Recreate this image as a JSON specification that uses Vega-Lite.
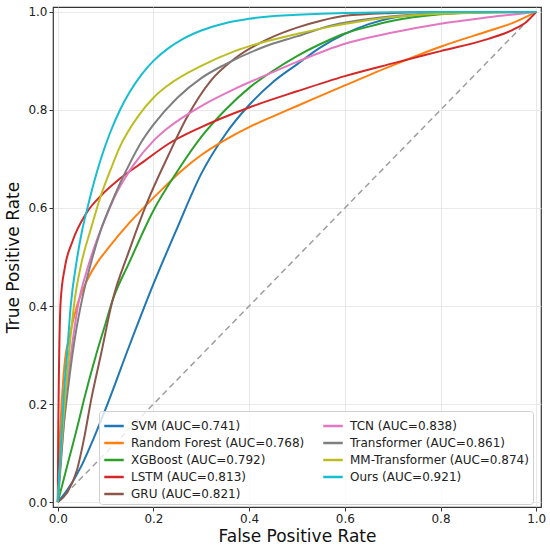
{
  "$schema": "https://vega.github.io/schema/vega-lite/v6.json",
  "description": "ROC curves of nine models",
  "width": 488,
  "height": 500,
  "autosize": "none",
  "padding": {"left": 53, "top": 7, "right": 9, "bottom": 42},
  "layer": [
    {
      "data": {"values": [{"fpr": 0, "tpr": 0}, {"fpr": 1, "tpr": 1}]},
      "mark": {"type": "line", "color": "#9e9e9e", "strokeWidth": 1.5, "strokeDash": [6, 4]},
      "encoding": {
        "x": {"field": "fpr", "type": "quantitative"},
        "y": {"field": "tpr", "type": "quantitative"}
      }
    },
    {
      "data": {"values": [
        {"model": "SVM (AUC=0.741)", "fpr": 0, "tpr": 0},
        {"model": "SVM (AUC=0.741)", "fpr": 0.02, "tpr": 0.025},
        {"model": "SVM (AUC=0.741)", "fpr": 0.05, "tpr": 0.075},
        {"model": "SVM (AUC=0.741)", "fpr": 0.075, "tpr": 0.13},
        {"model": "SVM (AUC=0.741)", "fpr": 0.1, "tpr": 0.19},
        {"model": "SVM (AUC=0.741)", "fpr": 0.15, "tpr": 0.32},
        {"model": "SVM (AUC=0.741)", "fpr": 0.2, "tpr": 0.445},
        {"model": "SVM (AUC=0.741)", "fpr": 0.25, "tpr": 0.56},
        {"model": "SVM (AUC=0.741)", "fpr": 0.3, "tpr": 0.67},
        {"model": "SVM (AUC=0.741)", "fpr": 0.35, "tpr": 0.75},
        {"model": "SVM (AUC=0.741)", "fpr": 0.4, "tpr": 0.81},
        {"model": "SVM (AUC=0.741)", "fpr": 0.45, "tpr": 0.857},
        {"model": "SVM (AUC=0.741)", "fpr": 0.5, "tpr": 0.893},
        {"model": "SVM (AUC=0.741)", "fpr": 0.55, "tpr": 0.928},
        {"model": "SVM (AUC=0.741)", "fpr": 0.6, "tpr": 0.955},
        {"model": "SVM (AUC=0.741)", "fpr": 0.65, "tpr": 0.975},
        {"model": "SVM (AUC=0.741)", "fpr": 0.7, "tpr": 0.988},
        {"model": "SVM (AUC=0.741)", "fpr": 0.8, "tpr": 0.997},
        {"model": "SVM (AUC=0.741)", "fpr": 0.9, "tpr": 1},
        {"model": "SVM (AUC=0.741)", "fpr": 1, "tpr": 1},

        {"model": "Random Forest (AUC=0.768)", "fpr": 0, "tpr": 0},
        {"model": "Random Forest (AUC=0.768)", "fpr": 0.003, "tpr": 0.1},
        {"model": "Random Forest (AUC=0.768)", "fpr": 0.008, "tpr": 0.2},
        {"model": "Random Forest (AUC=0.768)", "fpr": 0.014, "tpr": 0.28},
        {"model": "Random Forest (AUC=0.768)", "fpr": 0.025, "tpr": 0.34},
        {"model": "Random Forest (AUC=0.768)", "fpr": 0.04, "tpr": 0.4},
        {"model": "Random Forest (AUC=0.768)", "fpr": 0.06, "tpr": 0.45},
        {"model": "Random Forest (AUC=0.768)", "fpr": 0.08, "tpr": 0.485},
        {"model": "Random Forest (AUC=0.768)", "fpr": 0.107, "tpr": 0.52},
        {"model": "Random Forest (AUC=0.768)", "fpr": 0.15, "tpr": 0.57},
        {"model": "Random Forest (AUC=0.768)", "fpr": 0.184, "tpr": 0.605},
        {"model": "Random Forest (AUC=0.768)", "fpr": 0.22, "tpr": 0.64},
        {"model": "Random Forest (AUC=0.768)", "fpr": 0.26, "tpr": 0.677},
        {"model": "Random Forest (AUC=0.768)", "fpr": 0.3, "tpr": 0.708},
        {"model": "Random Forest (AUC=0.768)", "fpr": 0.35, "tpr": 0.739},
        {"model": "Random Forest (AUC=0.768)", "fpr": 0.4, "tpr": 0.765},
        {"model": "Random Forest (AUC=0.768)", "fpr": 0.45, "tpr": 0.787},
        {"model": "Random Forest (AUC=0.768)", "fpr": 0.5, "tpr": 0.808},
        {"model": "Random Forest (AUC=0.768)", "fpr": 0.6, "tpr": 0.85},
        {"model": "Random Forest (AUC=0.768)", "fpr": 0.7, "tpr": 0.891},
        {"model": "Random Forest (AUC=0.768)", "fpr": 0.8, "tpr": 0.929},
        {"model": "Random Forest (AUC=0.768)", "fpr": 0.9, "tpr": 0.961},
        {"model": "Random Forest (AUC=0.768)", "fpr": 0.95, "tpr": 0.977},
        {"model": "Random Forest (AUC=0.768)", "fpr": 1, "tpr": 1},

        {"model": "XGBoost (AUC=0.792)", "fpr": 0, "tpr": 0},
        {"model": "XGBoost (AUC=0.792)", "fpr": 0.02, "tpr": 0.075},
        {"model": "XGBoost (AUC=0.792)", "fpr": 0.04, "tpr": 0.15},
        {"model": "XGBoost (AUC=0.792)", "fpr": 0.055, "tpr": 0.21},
        {"model": "XGBoost (AUC=0.792)", "fpr": 0.08, "tpr": 0.3},
        {"model": "XGBoost (AUC=0.792)", "fpr": 0.1, "tpr": 0.365},
        {"model": "XGBoost (AUC=0.792)", "fpr": 0.114, "tpr": 0.41},
        {"model": "XGBoost (AUC=0.792)", "fpr": 0.15, "tpr": 0.49},
        {"model": "XGBoost (AUC=0.792)", "fpr": 0.2, "tpr": 0.595},
        {"model": "XGBoost (AUC=0.792)", "fpr": 0.25, "tpr": 0.675},
        {"model": "XGBoost (AUC=0.792)", "fpr": 0.3, "tpr": 0.745},
        {"model": "XGBoost (AUC=0.792)", "fpr": 0.35, "tpr": 0.8},
        {"model": "XGBoost (AUC=0.792)", "fpr": 0.4, "tpr": 0.845},
        {"model": "XGBoost (AUC=0.792)", "fpr": 0.45, "tpr": 0.88},
        {"model": "XGBoost (AUC=0.792)", "fpr": 0.5, "tpr": 0.91},
        {"model": "XGBoost (AUC=0.792)", "fpr": 0.55, "tpr": 0.935},
        {"model": "XGBoost (AUC=0.792)", "fpr": 0.6, "tpr": 0.956},
        {"model": "XGBoost (AUC=0.792)", "fpr": 0.65, "tpr": 0.97},
        {"model": "XGBoost (AUC=0.792)", "fpr": 0.7, "tpr": 0.982},
        {"model": "XGBoost (AUC=0.792)", "fpr": 0.8, "tpr": 0.995},
        {"model": "XGBoost (AUC=0.792)", "fpr": 0.9, "tpr": 1},
        {"model": "XGBoost (AUC=0.792)", "fpr": 1, "tpr": 1},

        {"model": "LSTM (AUC=0.813)", "fpr": 0, "tpr": 0},
        {"model": "LSTM (AUC=0.813)", "fpr": 0.001, "tpr": 0.15},
        {"model": "LSTM (AUC=0.813)", "fpr": 0.0025, "tpr": 0.27},
        {"model": "LSTM (AUC=0.813)", "fpr": 0.006, "tpr": 0.41},
        {"model": "LSTM (AUC=0.813)", "fpr": 0.015, "tpr": 0.48},
        {"model": "LSTM (AUC=0.813)", "fpr": 0.03, "tpr": 0.53},
        {"model": "LSTM (AUC=0.813)", "fpr": 0.06, "tpr": 0.59},
        {"model": "LSTM (AUC=0.813)", "fpr": 0.09, "tpr": 0.625},
        {"model": "LSTM (AUC=0.813)", "fpr": 0.13, "tpr": 0.66},
        {"model": "LSTM (AUC=0.813)", "fpr": 0.18, "tpr": 0.695},
        {"model": "LSTM (AUC=0.813)", "fpr": 0.23, "tpr": 0.73},
        {"model": "LSTM (AUC=0.813)", "fpr": 0.3, "tpr": 0.765},
        {"model": "LSTM (AUC=0.813)", "fpr": 0.4, "tpr": 0.805},
        {"model": "LSTM (AUC=0.813)", "fpr": 0.5, "tpr": 0.838},
        {"model": "LSTM (AUC=0.813)", "fpr": 0.6, "tpr": 0.869},
        {"model": "LSTM (AUC=0.813)", "fpr": 0.7, "tpr": 0.895},
        {"model": "LSTM (AUC=0.813)", "fpr": 0.8, "tpr": 0.92},
        {"model": "LSTM (AUC=0.813)", "fpr": 0.9, "tpr": 0.945},
        {"model": "LSTM (AUC=0.813)", "fpr": 0.95, "tpr": 0.963},
        {"model": "LSTM (AUC=0.813)", "fpr": 0.98, "tpr": 0.98},
        {"model": "LSTM (AUC=0.813)", "fpr": 1, "tpr": 1},

        {"model": "GRU (AUC=0.821)", "fpr": 0, "tpr": 0},
        {"model": "GRU (AUC=0.821)", "fpr": 0.02, "tpr": 0.02},
        {"model": "GRU (AUC=0.821)", "fpr": 0.04, "tpr": 0.065},
        {"model": "GRU (AUC=0.821)", "fpr": 0.055, "tpr": 0.13},
        {"model": "GRU (AUC=0.821)", "fpr": 0.07, "tpr": 0.21},
        {"model": "GRU (AUC=0.821)", "fpr": 0.09, "tpr": 0.3},
        {"model": "GRU (AUC=0.821)", "fpr": 0.114, "tpr": 0.41},
        {"model": "GRU (AUC=0.821)", "fpr": 0.15, "tpr": 0.515},
        {"model": "GRU (AUC=0.821)", "fpr": 0.187, "tpr": 0.612},
        {"model": "GRU (AUC=0.821)", "fpr": 0.23, "tpr": 0.705},
        {"model": "GRU (AUC=0.821)", "fpr": 0.27, "tpr": 0.785},
        {"model": "GRU (AUC=0.821)", "fpr": 0.32, "tpr": 0.86},
        {"model": "GRU (AUC=0.821)", "fpr": 0.37, "tpr": 0.905},
        {"model": "GRU (AUC=0.821)", "fpr": 0.44, "tpr": 0.945},
        {"model": "GRU (AUC=0.821)", "fpr": 0.5, "tpr": 0.968},
        {"model": "GRU (AUC=0.821)", "fpr": 0.55, "tpr": 0.982},
        {"model": "GRU (AUC=0.821)", "fpr": 0.6, "tpr": 0.992},
        {"model": "GRU (AUC=0.821)", "fpr": 0.7, "tpr": 0.998},
        {"model": "GRU (AUC=0.821)", "fpr": 0.8, "tpr": 1},
        {"model": "GRU (AUC=0.821)", "fpr": 1, "tpr": 1},

        {"model": "TCN (AUC=0.838)", "fpr": 0, "tpr": 0},
        {"model": "TCN (AUC=0.838)", "fpr": 0.005, "tpr": 0.07},
        {"model": "TCN (AUC=0.838)", "fpr": 0.015, "tpr": 0.19},
        {"model": "TCN (AUC=0.838)", "fpr": 0.03, "tpr": 0.32},
        {"model": "TCN (AUC=0.838)", "fpr": 0.044, "tpr": 0.41},
        {"model": "TCN (AUC=0.838)", "fpr": 0.06, "tpr": 0.47},
        {"model": "TCN (AUC=0.838)", "fpr": 0.08, "tpr": 0.53},
        {"model": "TCN (AUC=0.838)", "fpr": 0.1, "tpr": 0.58},
        {"model": "TCN (AUC=0.838)", "fpr": 0.12, "tpr": 0.625},
        {"model": "TCN (AUC=0.838)", "fpr": 0.14, "tpr": 0.66},
        {"model": "TCN (AUC=0.838)", "fpr": 0.16, "tpr": 0.69},
        {"model": "TCN (AUC=0.838)", "fpr": 0.2, "tpr": 0.737},
        {"model": "TCN (AUC=0.838)", "fpr": 0.23, "tpr": 0.763},
        {"model": "TCN (AUC=0.838)", "fpr": 0.3, "tpr": 0.808},
        {"model": "TCN (AUC=0.838)", "fpr": 0.37, "tpr": 0.843},
        {"model": "TCN (AUC=0.838)", "fpr": 0.44, "tpr": 0.873},
        {"model": "TCN (AUC=0.838)", "fpr": 0.5, "tpr": 0.898},
        {"model": "TCN (AUC=0.838)", "fpr": 0.6, "tpr": 0.935},
        {"model": "TCN (AUC=0.838)", "fpr": 0.7, "tpr": 0.958},
        {"model": "TCN (AUC=0.838)", "fpr": 0.8, "tpr": 0.976},
        {"model": "TCN (AUC=0.838)", "fpr": 0.9, "tpr": 0.989},
        {"model": "TCN (AUC=0.838)", "fpr": 1, "tpr": 1},

        {"model": "Transformer (AUC=0.861)", "fpr": 0, "tpr": 0},
        {"model": "Transformer (AUC=0.861)", "fpr": 0.005, "tpr": 0.06},
        {"model": "Transformer (AUC=0.861)", "fpr": 0.012, "tpr": 0.15},
        {"model": "Transformer (AUC=0.861)", "fpr": 0.02, "tpr": 0.22},
        {"model": "Transformer (AUC=0.861)", "fpr": 0.035, "tpr": 0.33},
        {"model": "Transformer (AUC=0.861)", "fpr": 0.05, "tpr": 0.41},
        {"model": "Transformer (AUC=0.861)", "fpr": 0.07, "tpr": 0.49},
        {"model": "Transformer (AUC=0.861)", "fpr": 0.09, "tpr": 0.555},
        {"model": "Transformer (AUC=0.861)", "fpr": 0.112, "tpr": 0.61},
        {"model": "Transformer (AUC=0.861)", "fpr": 0.13, "tpr": 0.65},
        {"model": "Transformer (AUC=0.861)", "fpr": 0.15, "tpr": 0.69},
        {"model": "Transformer (AUC=0.861)", "fpr": 0.175, "tpr": 0.735},
        {"model": "Transformer (AUC=0.861)", "fpr": 0.2, "tpr": 0.77},
        {"model": "Transformer (AUC=0.861)", "fpr": 0.25, "tpr": 0.825},
        {"model": "Transformer (AUC=0.861)", "fpr": 0.3, "tpr": 0.865},
        {"model": "Transformer (AUC=0.861)", "fpr": 0.35, "tpr": 0.893},
        {"model": "Transformer (AUC=0.861)", "fpr": 0.44, "tpr": 0.932},
        {"model": "Transformer (AUC=0.861)", "fpr": 0.5, "tpr": 0.95},
        {"model": "Transformer (AUC=0.861)", "fpr": 0.57, "tpr": 0.972},
        {"model": "Transformer (AUC=0.861)", "fpr": 0.67, "tpr": 0.988},
        {"model": "Transformer (AUC=0.861)", "fpr": 0.8, "tpr": 0.997},
        {"model": "Transformer (AUC=0.861)", "fpr": 1, "tpr": 1},

        {"model": "MM-Transformer (AUC=0.874)", "fpr": 0, "tpr": 0},
        {"model": "MM-Transformer (AUC=0.874)", "fpr": 0.005, "tpr": 0.08},
        {"model": "MM-Transformer (AUC=0.874)", "fpr": 0.015, "tpr": 0.21},
        {"model": "MM-Transformer (AUC=0.874)", "fpr": 0.025, "tpr": 0.32},
        {"model": "MM-Transformer (AUC=0.874)", "fpr": 0.035, "tpr": 0.41},
        {"model": "MM-Transformer (AUC=0.874)", "fpr": 0.05, "tpr": 0.49},
        {"model": "MM-Transformer (AUC=0.874)", "fpr": 0.07, "tpr": 0.56},
        {"model": "MM-Transformer (AUC=0.874)", "fpr": 0.09, "tpr": 0.625},
        {"model": "MM-Transformer (AUC=0.874)", "fpr": 0.11, "tpr": 0.677},
        {"model": "MM-Transformer (AUC=0.874)", "fpr": 0.13, "tpr": 0.725},
        {"model": "MM-Transformer (AUC=0.874)", "fpr": 0.17, "tpr": 0.79},
        {"model": "MM-Transformer (AUC=0.874)", "fpr": 0.2, "tpr": 0.825},
        {"model": "MM-Transformer (AUC=0.874)", "fpr": 0.23, "tpr": 0.85},
        {"model": "MM-Transformer (AUC=0.874)", "fpr": 0.3, "tpr": 0.89},
        {"model": "MM-Transformer (AUC=0.874)", "fpr": 0.37, "tpr": 0.92},
        {"model": "MM-Transformer (AUC=0.874)", "fpr": 0.44, "tpr": 0.941},
        {"model": "MM-Transformer (AUC=0.874)", "fpr": 0.5, "tpr": 0.955},
        {"model": "MM-Transformer (AUC=0.874)", "fpr": 0.57, "tpr": 0.97},
        {"model": "MM-Transformer (AUC=0.874)", "fpr": 0.67, "tpr": 0.986},
        {"model": "MM-Transformer (AUC=0.874)", "fpr": 0.8, "tpr": 0.996},
        {"model": "MM-Transformer (AUC=0.874)", "fpr": 1, "tpr": 1},

        {"model": "Ours (AUC=0.921)", "fpr": 0, "tpr": 0},
        {"model": "Ours (AUC=0.921)", "fpr": 0.005, "tpr": 0.09},
        {"model": "Ours (AUC=0.921)", "fpr": 0.012, "tpr": 0.21},
        {"model": "Ours (AUC=0.921)", "fpr": 0.02, "tpr": 0.31},
        {"model": "Ours (AUC=0.921)", "fpr": 0.027, "tpr": 0.4},
        {"model": "Ours (AUC=0.921)", "fpr": 0.04, "tpr": 0.495},
        {"model": "Ours (AUC=0.921)", "fpr": 0.05, "tpr": 0.55},
        {"model": "Ours (AUC=0.921)", "fpr": 0.062, "tpr": 0.6},
        {"model": "Ours (AUC=0.921)", "fpr": 0.075, "tpr": 0.65},
        {"model": "Ours (AUC=0.921)", "fpr": 0.09, "tpr": 0.7},
        {"model": "Ours (AUC=0.921)", "fpr": 0.11, "tpr": 0.755},
        {"model": "Ours (AUC=0.921)", "fpr": 0.13, "tpr": 0.8},
        {"model": "Ours (AUC=0.921)", "fpr": 0.15, "tpr": 0.836},
        {"model": "Ours (AUC=0.921)", "fpr": 0.175, "tpr": 0.872},
        {"model": "Ours (AUC=0.921)", "fpr": 0.2, "tpr": 0.9},
        {"model": "Ours (AUC=0.921)", "fpr": 0.23, "tpr": 0.925},
        {"model": "Ours (AUC=0.921)", "fpr": 0.26, "tpr": 0.944},
        {"model": "Ours (AUC=0.921)", "fpr": 0.3, "tpr": 0.962},
        {"model": "Ours (AUC=0.921)", "fpr": 0.35, "tpr": 0.977},
        {"model": "Ours (AUC=0.921)", "fpr": 0.4, "tpr": 0.986},
        {"model": "Ours (AUC=0.921)", "fpr": 0.5, "tpr": 0.994},
        {"model": "Ours (AUC=0.921)", "fpr": 0.6, "tpr": 0.998},
        {"model": "Ours (AUC=0.921)", "fpr": 0.8, "tpr": 1},
        {"model": "Ours (AUC=0.921)", "fpr": 1, "tpr": 1}
      ]},
      "mark": {"type": "line", "strokeWidth": 2, "interpolate": "monotone"},
      "encoding": {
        "x": {
          "field": "fpr", "type": "quantitative", "title": "False Positive Rate",
          "scale": {"domain": [-0.01, 1.01], "nice": false, "zero": false},
          "axis": {"values": [0, 0.2, 0.4, 0.6, 0.8, 1], "format": ".1f"}
        },
        "y": {
          "field": "tpr", "type": "quantitative", "title": "True Positive Rate",
          "scale": {"domain": [-0.01, 1.01], "nice": false, "zero": false},
          "axis": {"values": [0, 0.2, 0.4, 0.6, 0.8, 1], "format": ".1f"}
        },
        "color": {
          "field": "model", "type": "nominal",
          "scale": {
            "domain": [
              "SVM (AUC=0.741)", "Random Forest (AUC=0.768)", "XGBoost (AUC=0.792)",
              "LSTM (AUC=0.813)", "GRU (AUC=0.821)", "TCN (AUC=0.838)",
              "Transformer (AUC=0.861)", "MM-Transformer (AUC=0.874)", "Ours (AUC=0.921)"
            ],
            "range": [
              "#1f77b4", "#ff7f0e", "#2ca02c", "#d62728", "#8c564b",
              "#e377c2", "#7f7f7f", "#bcbd22", "#17becf"
            ]
          },
          "legend": {
            "title": null,
            "orient": "none",
            "legendX": 46,
            "legendY": 404,
            "columns": 2,
            "columnPadding": 13,
            "rowPadding": -2,
            "padding": 4,
            "symbolType": "stroke",
            "symbolSize": 380,
            "symbolStrokeWidth": 2.5,
            "labelOffset": 6,
            "labelFontSize": 12,
            "labelLimit": 300,
            "fillColor": "rgba(255,255,255,0.8)",
            "strokeColor": "#d0d0d0",
            "cornerRadius": 3
          }
        }
      }
    }
  ],
  "config": {
    "font": "DejaVu Sans",
    "view": {"stroke": "#333333", "strokeWidth": 1.2},
    "axis": {
      "domain": false,
      "grid": true,
      "gridColor": "#e3e3e3",
      "gridWidth": 0.8,
      "tickColor": "#333333",
      "tickSize": 4,
      "labelFontSize": 12,
      "labelColor": "#222222",
      "labelPadding": 2,
      "titleFontSize": 17,
      "titleFontWeight": "normal",
      "titleColor": "#111111"
    },
    "axisX": {"titlePadding": 4},
    "axisY": {"titlePadding": 5},
    "legend": {"labelColor": "#222222"}
  }
}
